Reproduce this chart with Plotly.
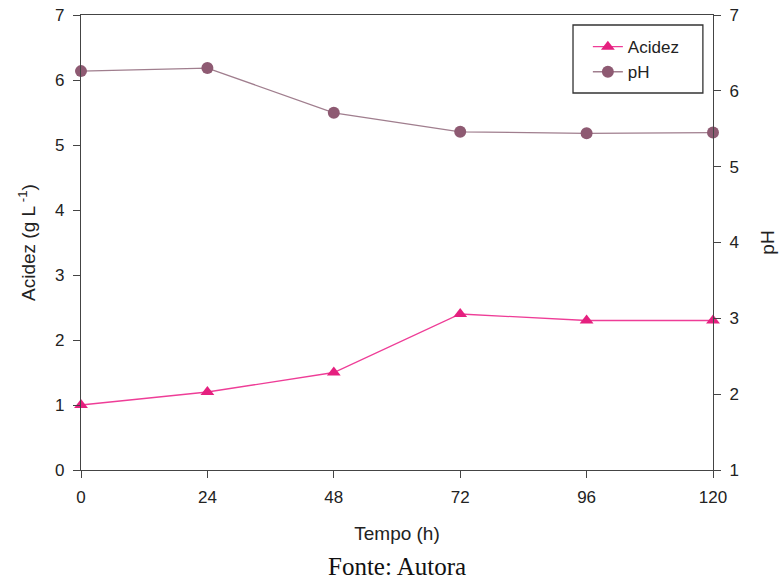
import plotly.graph_objects as go

tempo = [0, 24, 48, 72, 96, 120]
acidez = [1.0, 1.2, 1.5, 2.4, 2.3, 2.3]
ph = [6.26, 6.30, 5.71, 5.46, 5.44, 5.45]
x_ticks = [0, 24, 48, 72, 96, 120]

FONT = "Liberation Sans, Arial"

fig = go.Figure()
fig.add_trace(go.Scatter(
    x=tempo, y=acidez, name="Acidez", mode="lines+markers",
    line=dict(color="#EE3D97", width=1.3),
    marker=dict(symbol="triangle-up", size=12, color="#E5207F"),
    cliponaxis=False,
))
fig.add_trace(go.Scatter(
    x=tempo, y=ph, name="pH", mode="lines+markers", yaxis="y2",
    line=dict(color="#A07E8E", width=1.3),
    marker=dict(symbol="circle", size=12, color="#8E5A72"),
    cliponaxis=False,
))

axis_common = dict(
    showline=True, linecolor="#444444", linewidth=1.4,
    ticks="outside", ticklen=7, tickcolor="#444444", tickwidth=1.4,
    showgrid=False, zeroline=False, automargin=False,
    tickfont=dict(family=FONT, size=17, color="#222222"),
)

title_font = dict(family=FONT, size=19, color="#222222")

fig.update_layout(
    width=783, height=582,
    margin=dict(l=81, r=70, t=15, b=112),
    paper_bgcolor="white", plot_bgcolor="white",
    showlegend=True,
    legend=dict(
        x=0.802, y=0.969, xanchor="left", yanchor="top",
        borderwidth=0, bgcolor="rgba(0,0,0,0)",
        font=dict(family=FONT, size=17, color="#222222"),
        tracegroupgap=0,
    ),
    xaxis=dict(
        **axis_common, range=[0, 120], tickvals=x_ticks, mirror=True,
        ticklabelstandoff=4,
        title=dict(text="Tempo (h)", standoff=21, font=title_font),
    ),
    yaxis=dict(
        **axis_common, range=[0, 7], dtick=1, ticklabelstandoff=5,
        title=dict(text="Acidez (g L<sup> -1</sup>)", standoff=14, font=title_font),
    ),
    yaxis2=dict(
        **axis_common, range=[1, 7], dtick=1, overlaying="y", side="right",
        ticklabelstandoff=5,
        title=dict(text="pH", standoff=22, font=title_font),
    ),
    shapes=[dict(
        type="rect", xref="paper", yref="paper",
        x0=0.7785, x1=0.984, y0=0.8286, y1=0.978,
        line=dict(color="#333333", width=1.3), fillcolor="rgba(0,0,0,0)",
    )],
    annotations=[dict(
        text="Fonte: Autora", x=0.5, y=0, xref="paper", yref="paper",
        xanchor="center", yanchor="middle", yshift=-96, showarrow=False,
        font=dict(family="Liberation Serif, Times New Roman", size=25, color="#111111"),
    )],
)

fig.write_html("out.html")
